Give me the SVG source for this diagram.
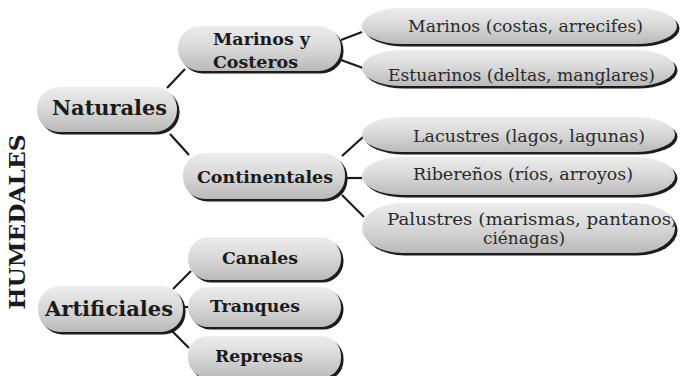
<svg xmlns="http://www.w3.org/2000/svg" width="681" height="376" viewBox="0 0 681 376">
<defs>
<linearGradient id="g" x1="0" y1="0" x2="0" y2="1">
<stop offset="0" stop-color="#ececec"/>
<stop offset="0.45" stop-color="#dadada"/>
<stop offset="1" stop-color="#bababa"/>
</linearGradient>
<filter id="sh" x="-5%" y="-15%" width="110%" height="140%"><feGaussianBlur stdDeviation="0.7"/></filter>
</defs>
<style>
.sh{fill:#1c1c1c;filter:url(#sh)}
.p{fill:url(#g)}
.b{font-family:"DejaVu Serif",serif;font-weight:bold;fill:#1a1a1a}
.r{font-family:"DejaVu Serif",serif;fill:#2a2a2a;font-size:17.5px}
.c{stroke:#1a1a1a;stroke-width:2.2;fill:none}
</style>
<rect width="681" height="376" fill="#ffffff"/>

<text class="b" font-size="23" text-anchor="middle" textLength="175" lengthAdjust="spacingAndGlyphs" transform="translate(25,222) rotate(-90)">HUMEDALES</text>

<g id="connectors">
<line class="c" x1="167" y1="88" x2="185" y2="69"/>
<line class="c" x1="170" y1="134" x2="189" y2="155"/>
<line class="c" x1="341" y1="40" x2="362" y2="32"/>
<line class="c" x1="341" y1="60" x2="363" y2="68"/>
<line class="c" x1="342" y1="156" x2="363" y2="137"/>
<line class="c" x1="344" y1="178" x2="362" y2="178"/>
<line class="c" x1="342" y1="195" x2="364" y2="217"/>
<line class="c" x1="173" y1="289" x2="191" y2="271"/>
<line class="c" x1="182" y1="307" x2="189" y2="307"/>
<line class="c" x1="172" y1="331" x2="189" y2="348"/>
</g>

<g id="naturales">
<rect class="sh" x="39.5" y="89.5" width="140" height="45" rx="22"/>
<rect class="p" x="37" y="87" width="140" height="45" rx="22"/>
<text class="b" x="52" y="115" font-size="20" textLength="115" lengthAdjust="spacingAndGlyphs">Naturales</text>
</g>
<g id="marinos-costeros">
<rect class="sh" x="180.5" y="28.5" width="163" height="45" rx="22"/>
<rect class="p" x="178" y="26" width="163" height="45" rx="22"/>
<text class="b" x="213" y="45" font-size="17" textLength="97" lengthAdjust="spacingAndGlyphs">Marinos y</text>
<text class="b" x="213" y="68" font-size="17" textLength="85" lengthAdjust="spacingAndGlyphs">Costeros</text>
</g>
<g id="continentales">
<rect class="sh" x="185.5" y="155.5" width="162" height="46" rx="22"/>
<rect class="p" x="183" y="153" width="162" height="46" rx="22"/>
<text class="b" x="197" y="183" font-size="17" textLength="136" lengthAdjust="spacingAndGlyphs">Continentales</text>
</g>
<g id="artificiales">
<rect class="sh" x="40.5" y="288.5" width="145" height="46" rx="22"/>
<rect class="p" x="38" y="286" width="145" height="46" rx="22"/>
<text class="b" x="45" y="316" font-size="20.5" textLength="128" lengthAdjust="spacingAndGlyphs">Artificiales</text>
</g>
<g id="canales">
<rect class="sh" x="190.5" y="239.5" width="153" height="43" rx="21"/>
<rect class="p" x="188" y="237" width="153" height="43" rx="21"/>
<text class="b" x="222" y="264" font-size="17.5" textLength="76" lengthAdjust="spacingAndGlyphs">Canales</text>
</g>
<g id="tranques">
<rect class="sh" x="190.5" y="289.5" width="153" height="40" rx="20"/>
<rect class="p" x="188" y="287" width="153" height="40" rx="20"/>
<text class="b" x="210" y="312" font-size="17.5" textLength="90" lengthAdjust="spacingAndGlyphs">Tranques</text>
</g>
<g id="represas">
<rect class="sh" x="190.5" y="338.5" width="153" height="42" rx="20"/>
<rect class="p" x="188" y="336" width="153" height="42" rx="20"/>
<text class="b" x="215" y="362" font-size="17.5" textLength="88" lengthAdjust="spacingAndGlyphs">Represas</text>
</g>

<g id="marinos">
<rect class="sh" x="364.5" y="10.5" width="315" height="36" rx="40" ry="18"/>
<rect class="p" x="362" y="8" width="315" height="36" rx="40" ry="18"/>
<text class="r" x="408" y="32" textLength="235" lengthAdjust="spacingAndGlyphs">Marinos (costas, arrecifes)</text>
</g>
<g id="estuarinos">
<rect class="sh" x="364.5" y="52.5" width="313" height="36" rx="40" ry="18"/>
<rect class="p" x="362" y="50" width="313" height="36" rx="40" ry="18"/>
<text class="r" x="388" y="81" textLength="267" lengthAdjust="spacingAndGlyphs">Estuarinos (deltas, manglares)</text>
</g>
<g id="lacustres">
<rect class="sh" x="364.5" y="119.5" width="313" height="35" rx="40" ry="17.5"/>
<rect class="p" x="362" y="117" width="313" height="35" rx="40" ry="17.5"/>
<text class="r" x="413" y="142" textLength="232" lengthAdjust="spacingAndGlyphs">Lacustres (lagos, lagunas)</text>
</g>
<g id="riberenos">
<rect class="sh" x="364.5" y="159.5" width="313" height="38" rx="40" ry="19"/>
<rect class="p" x="362" y="157" width="313" height="38" rx="40" ry="19"/>
<text class="r" x="413" y="180" textLength="220" lengthAdjust="spacingAndGlyphs">Ribereños (ríos, arroyos)</text>
</g>
<g id="palustres">
<rect class="sh" x="364.5" y="205.5" width="313" height="50" rx="40" ry="25"/>
<rect class="p" x="362" y="203" width="313" height="50" rx="40" ry="25"/>
<text class="r" x="387" y="225" font-size="15.5" textLength="290" lengthAdjust="spacingAndGlyphs">Palustres (marismas, pantanos,</text>
<text class="r" x="483" y="244" font-size="15.5" textLength="82" lengthAdjust="spacingAndGlyphs">ciénagas)</text>
</g>
</svg>
